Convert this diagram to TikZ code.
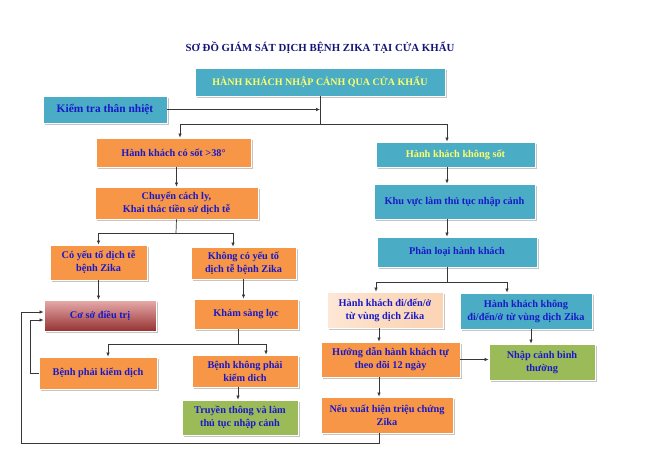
\documentclass[tikz,border=0pt]{standalone}
\usepackage{fontspec}
\setmainfont{Liberation Serif}
\usetikzlibrary{calc,shadows,arrows.meta}
\definecolor{tealbox}{RGB}{75,172,198}
\definecolor{orangebox}{RGB}{247,150,70}
\definecolor{greenbox}{RGB}{155,187,89}
\definecolor{peachbox}{RGB}{251,212,180}
\definecolor{cosotop}{RGB}{232,172,172}
\definecolor{cosomid}{RGB}{198,88,88}
\definecolor{cosobot}{RGB}{150,50,50}
\definecolor{txtblue}{RGB}{25,25,200}
\definecolor{titleblue}{RGB}{20,20,120}
\definecolor{txtyellow}{RGB}{255,255,102}
\definecolor{linegray}{RGB}{55,55,55}
\tikzset{
	box/.style={draw=white, line width=0.8pt, align=center, inner sep=1pt, text=txtblue, font=\bfseries\fontsize{10.3}{13}\selectfont, drop shadow={shadow xshift=1.5pt, shadow yshift=-1.5pt, fill=black!45, opacity=0.5}},
	sz/.style 2 args={minimum width=#1pt, minimum height=#2pt},
	tealb/.style={box, fill=tealbox},
	orangeb/.style={box, fill=orangebox},
	greenb/.style={box, fill=greenbox},
	link/.style={line width=0.7pt, draw=linegray},
	arr/.style={link, -{Latex[length=4pt,width=3.5pt]}}
}

\begin{document}
\begin{tikzpicture}[x=1pt, y=-1pt]
			%%%%% START %%%%%
			
			\useasboundingbox (0, 0) rectangle (668, 472);
			
			\node[text=titleblue, font=\bfseries\fontsize{10.8}{12}\selectfont] (title) at (320, 48) {SƠ ĐỒ GIÁM SÁT DỊCH BỆNH ZIKA TẠI CỬA KHẨU};
			
			\node[tealb, sz={250}{28}, text=txtyellow, font=\bfseries\fontsize{10}{12}\selectfont] (nhap) at (320, 82) {HÀNH KHÁCH NHẬP CẢNH QUA CỬA KHẨU};
			\node[tealb, sz={124}{27}, font=\bfseries\fontsize{11.4}{13}\selectfont] (kiem) at (105, 109.5) {Kiểm tra thân nhiệt};
			
			\node[orangeb, sz={155}{29}] (cosot) at (173.5, 152.5) {Hành khách có sốt >38°};
			\node[orangeb, sz={163}{32}] (chuyen) at (176.5, 203) {Chuyển cách ly,\\Khai thác tiền sử dịch tễ};
			\node[orangeb, sz={97}{35}] (coyeuto) at (98.5, 262.5) {Có yếu tố dịch tễ\\bệnh Zika};
			\node[orangeb, sz={105}{32}] (khongco) at (243.5, 263) {Không có yếu tố\\dịch tễ bệnh Zika};
			\node[box, sz={112}{31}, top color=cosotop, middle color=cosomid, bottom color=cosobot] (coso) at (100, 315.5) {Cơ sở  điều trị};
			\node[orangeb, sz={104}{30}] (kham) at (246, 314) {Khám sàng lọc};
			\node[orangeb, sz={118}{32}] (benhphai) at (98, 373) {Bệnh phải kiểm dịch};
			\node[orangeb, sz={106}{32}] (benhkhong) at (245, 371) {Bệnh không phải\\kiểm dich};
			\node[greenb, sz={116}{35}] (truyen) at (240, 417.5) {Truyền thông và làm\\thủ tục nhập cảnh};
			
			\node[tealb, sz={159}{25}, text=txtyellow] (khongsot) at (455.5, 154.5) {Hành khách không sốt};
			\node[tealb, sz={161}{35}] (khuvuc) at (454.5, 201.5) {Khu vực làm thủ tục nhập cảnh};
			\node[tealb, sz={160}{30}] (phanloai) at (457, 252) {Phân loại hành khách};
			\node[box, sz={116}{36}, left color=peachbox!55, right color=peachbox, middle color=peachbox!85] (vungdich) at (385, 310) {Hành khách đi/đến/ở\\từ vùng dịch Zika};
			\node[tealb, sz={132}{36}] (khongvung) at (526, 311) {Hành khách không\\đi/đến/ở từ vùng dịch Zika};
			\node[orangeb, sz={139}{35}] (huongdan) at (390.5, 359.5) {Hướng dẫn hành khách tự\\theo dõi 12 ngày};
			\node[greenb, sz={106}{36}] (nhapbt) at (542, 362) {Nhập cảnh bình\\thường};
			\node[orangeb, sz={132}{36}] (neu) at (387, 415) {Nếu xuất hiện triệu chứng\\Zika};
			
			\coordinate (jtop) at (320, 124);
			\coordinate (jleft) at (176, 233);
			\coordinate (jmid) at (238, 344);
			\coordinate (spine) at (447, 282);
			\coordinate (lane) at (379, 443);
			\coordinate (lbot) at (21, 443);
			\coordinate (lout) at (21, 312);
			\coordinate (lin) at (30, 320);
			
			\draw[link] (nhap.south) -- (jtop);
			\draw[arr] (kiem.east) -- (kiem.east -| nhap.south);
			\draw[arr] (jtop) -| ([xshift=6.5pt]cosot.north);
			\draw[arr] (jtop) -| (spine |- khongsot.north);
			
			\draw[arr] (chuyen.north |- cosot.south) -- (chuyen.north);
			\draw[link] (chuyen.south) -- (jleft);
			\draw[arr] (jleft) -| (coyeuto.north);
			\draw[arr] (jleft) -| ([xshift=-10.5pt]khongco.north);
			\draw[arr] (coyeuto.south) -- (coyeuto.south |- coso.north);
			\draw[arr] (khongco.south) -- (khongco.south |- kham.north);
			\draw[link] (jmid |- kham.south) -- (jmid);
			\draw[arr] (jmid) -| ([xshift=10pt]benhphai.north);
			\draw[arr] (jmid) -| ([xshift=21pt]benhkhong.north);
			\draw[arr] (jmid |- benhkhong.south) -- (jmid |- truyen.north);
			\draw[arr] (benhphai.west) -| (lin) -- (lin -| coso.west);
			
			\draw[arr] (spine |- khongsot.south) -- (spine |- khuvuc.north);
			\draw[arr] (spine |- khuvuc.south) -- (spine |- phanloai.north);
			\draw[link] (spine |- phanloai.south) -- (spine);
			\draw[arr] (spine) -| ([xshift=-9pt]vungdich.north);
			\draw[arr] (spine) -| ([xshift=-19pt]khongvung.north);
			\draw[arr] (lane |- vungdich.south) -- (lane |- huongdan.north);
			\draw[arr] (lane |- huongdan.south) -- (lane |- neu.north);
			\draw[arr] ([xshift=5pt]khongvung.south) -- ([xshift=5pt]khongvung.south |- nhapbt.north);
			\draw[arr] (huongdan.east) -- (huongdan.east -| nhapbt.west);
			\draw[arr] (lane |- neu.south) -- (lane) -- (lbot) -- (lout) -- (lout -| coso.west);
			
			%%%%% END %%%%%
\end{tikzpicture}
\end{document}
